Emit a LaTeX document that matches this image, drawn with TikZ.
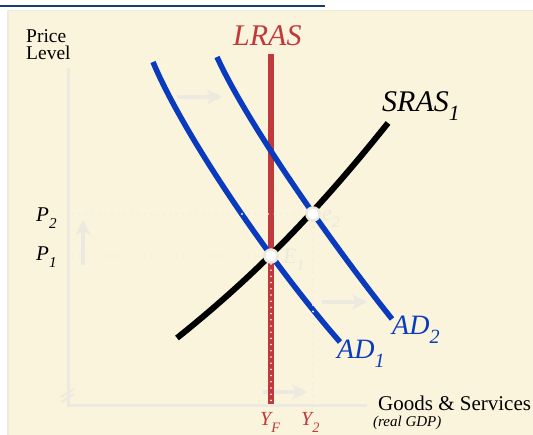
\documentclass[tikz,border=0pt]{standalone}
\usepackage{fontspec}
\setmainfont{Liberation Serif}
\usetikzlibrary{arrows.meta}
\definecolor{cream}{RGB}{250,244,220}
\definecolor{faint}{RGB}{236,234,224}
\definecolor{adblue}{RGB}{10,58,190}
\definecolor{lrasred}{RGB}{192,57,59}
\definecolor{topblue}{RGB}{20,62,112}
\definecolor{dotgray}{RGB}{240,238,230}
\definecolor{ghost}{RGB}{236,233,217}
\newcommand{\lsub}[1]{\raisebox{-0.3em}{\scalebox{0.72}{#1}}}
\newcommand{\fsz}[1]{\fontsize{#1}{#1}\selectfont}
\begin{document}
\begin{tikzpicture}[x=1pt,y=-1pt,
  axisline/.style={faint,line width=3},
  shiftarrow/.style={faint,line width=4,-{Stealth[length=15,width=15,inset=4]}},
  adcurve/.style={adblue,line width=5.5},
  srascurve/.style={black,line width=6},
  lrasline/.style={lrasred,line width=6},
  guide/.style={dotgray,line width=2.2,line cap=round,dash pattern=on 0pt off 6.5pt},
  eqpoint/.style={circle,fill=white,draw=faint,line width=2.5,minimum size=13,inner sep=0},
  lbl/.style={inner sep=0,anchor=base west},
]
\useasboundingbox (0,0) rectangle (533,435);
\fill[white] (0,0) rectangle (533,435);
\fill[cream] (7,10) rectangle (533,435);
\draw[faint,line width=1.5] (7.75,435) -- (7.75,10.75) -- (533,10.75);
\draw[topblue,line width=2] (0,6) -- (325,6);

% axes
\coordinate (ytop) at (68,68);
\coordinate (O) at (68,406);
\coordinate (xend) at (367,406);
\draw[axisline] (ytop) -- (O) -- (xend);
\draw[faint,line width=2] (61,397) -- (74,389);
\draw[faint,line width=2] (61,402) -- (74,394);

% shift arrows
\coordinate (a1s) at (177,97);  \coordinate (a1e) at (222,97);
\coordinate (a2s) at (83,265);  \coordinate (a2e) at (83,220);
\coordinate (a3s) at (322,302); \coordinate (a3e) at (367,302);
\coordinate (a4s) at (263,392); \coordinate (a4e) at (307,392);
\draw[shiftarrow] (a1s) -- (a1e);
\draw[shiftarrow] (a2s) -- (a2e);
\draw[shiftarrow] (a3s) -- (a3e);
\draw[shiftarrow] (a4s) -- (a4e);

% key points
\coordinate (E1) at (271,256);
\coordinate (E2) at (313,214);
\coordinate (lrastop) at (271,54);
\coordinate (lrasbot) at (271,404);
\coordinate (lrasdot) at (271,264);

% LRAS
\draw[lrasline] (lrastop) -- (lrasbot);
\draw[white,line width=1.8,line cap=round,dash pattern=on 0pt off 6.2pt] (lrasdot) -- (271,402);

% AD curves
\draw[adcurve] (153,62) .. controls (183,134) and (270,262) .. (340,342);
\draw[adcurve] (217,57) .. controls (247,123) and (332,244) .. (392,319);

% SRAS
\draw[srascurve] (177,338) .. controls (257,274) and (318,210.5) .. (388,123);

% guides
\coordinate (p2l) at (73,214);
\coordinate (p1l) at (73,256);
\coordinate (y2b) at (313,404);
\draw[guide] (p2l) -- (E2);
\draw[guide] (p1l) -- (E1);
\draw[guide] (E2) -- (y2b);

% equilibrium points
\node[eqpoint] (e1pt) at (E1) {};
\node[eqpoint] (e2pt) at (E2) {};
\node[lbl,text=ghost,font=\fsz{22}\itshape] (e1lbl) at (283,264) {E\lsub{1}};
\node[lbl,text=ghost,font=\fsz{22}\itshape] (e2lbl) at (322,221) {e\lsub{2}};

% labels
\node[lbl,font=\fsz{19.5}] (price) at (26,42.5) {Price};
\node[lbl,font=\fsz{19.5}] (level) at (26,60) {Level};
\node[lbl,text=lrasred,font=\fsz{30}\itshape] (lras) at (233,46) {LRAS};
\node[lbl,font=\fsz{30}\itshape] (sras) at (382,112) {SRAS\lsub{1}};
\node[lbl,text=adblue,font=\fsz{28}\itshape] (ad2) at (392,335) {AD\lsub{2}};
\node[lbl,text=adblue,font=\fsz{28}\itshape] (ad1) at (337,359) {AD\lsub{1}};
\node[lbl,font=\fsz{21}\itshape] (p2) at (36,222) {P\lsub{2}};
\node[lbl,font=\fsz{21}\itshape] (p1) at (36,261) {P\lsub{1}};
\node[lbl,text=lrasred,font=\fsz{20}\itshape] (yf) at (260,426) {Y\lsub{F}};
\node[lbl,text=lrasred,font=\fsz{20}\itshape] (y2) at (301,426) {Y\lsub{2}};
\node[lbl,font=\fsz{21}] (goods) at (378,411) {Goods \& Services};
\node[lbl,font=\fsz{15}\itshape] (gdp) at (373,427) {(real GDP)};
\end{tikzpicture}
\end{document}
